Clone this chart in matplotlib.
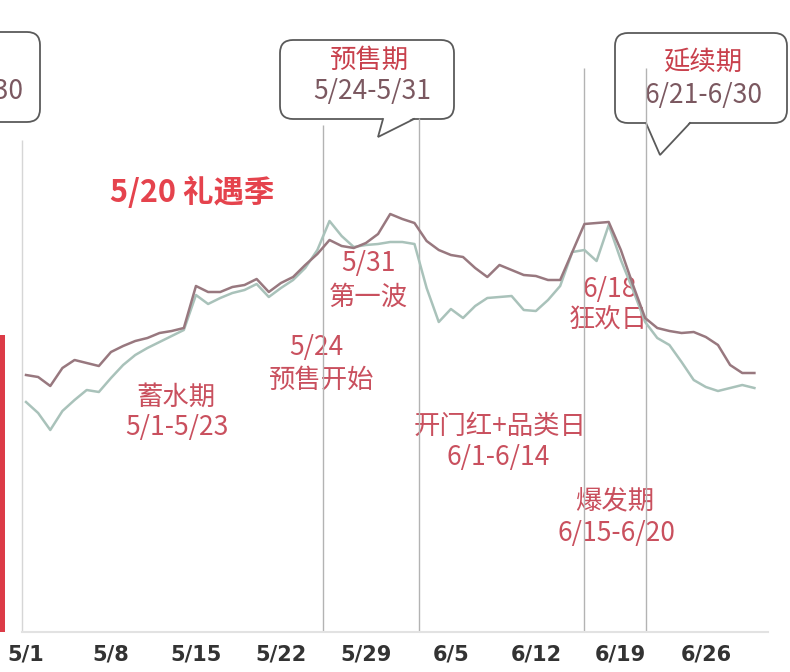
import matplotlib
matplotlib.use("Agg")
import matplotlib.pyplot as plt
from matplotlib.patches import FancyBboxPatch, Polygon

plt.rcParams['font.family'] = ['Noto Sans CJK SC', 'DejaVu Sans']

# daily index, 5/1 .. 6/30 (day 0 .. 60)
days = list(range(61))
tick_days = [0, 7, 14, 21, 28, 35, 42, 49, 56]
tick_labels = ['5/1', '5/8', '5/15', '5/22', '5/29', '6/5', '6/12', '6/19', '6/26']

trend_main = [257, 255, 246, 264, 272, 269, 266, 280, 286, 291,
              294, 299, 301, 304, 346, 340, 340, 345, 347, 353,
              340, 349, 355, 367, 378, 392, 386, 384, 389, 398,
              418, 413, 409, 391, 382, 377, 375, 364, 355, 367,
              362, 357, 356, 352, 352, 380, 408, 409, 410, 382,
              347, 314, 304, 301, 299, 300, 295, 287, 267, 259, 259]

trend_compare = [230, 219, 202, 221, 232, 242, 240, 254, 267, 277,
                 284, 290, 296, 302, 337, 328, 334, 339, 342, 348,
                 335, 344, 352, 364, 382, 411, 396, 385, 387, 388,
                 390, 390, 388, 344, 310, 323, 314, 326, 334, 335,
                 336, 322, 321, 332, 346, 380, 382, 371, 407, 372,
                 342, 310, 294, 287, 270, 252, 245, 241, 244, 247, 244]

# phase boundary markers (day position, top of the marker)
phase_days = [24.5, 32.4, 46.0, 51.1]
phase_tops = [507, 514, 564, 564]
start_day = [-0.33]
start_top = [492]

# last bar of the preceding panel
prev_bar_x = [-2.9]
prev_bar_h = [297]

fig = plt.figure(figsize=(7.9, 6.72), dpi=100)
fig.patch.set_facecolor('white')

# annotation layer in pixel units
note = fig.add_axes([0, 0, 1, 1])
note.set_xlim(0, 790)
note.set_ylim(672, 0)
note.axis('off')
note.set_zorder(0)

ax = fig.add_axes([0, 40 / 672, 1, 632 / 672])
ax.set_zorder(1)
ax.patch.set_alpha(0)
px_per_day = 12.14
ax.set_xlim(-26 / px_per_day, (790 - 26) / px_per_day)
ax.set_ylim(0, 632)
for s in ['top', 'right', 'left']:
    ax.spines[s].set_visible(False)
ax.spines['bottom'].set_color('#e2e2e2')
ax.spines['bottom'].set_linewidth(1.5)
ax.spines['bottom'].set_bounds(-0.33, 61.1)
ax.set_yticks([])
ax.set_xticks(tick_days, tick_labels)
ax.tick_params(axis='x', length=0, pad=9, labelsize=15, labelcolor='#333333')
for lab in ax.get_xticklabels():
    lab.set_fontfamily('DejaVu Sans')
    lab.set_fontweight('bold')

ax.bar(prev_bar_x, prev_bar_h, width=2.3, color='#dc3b47')
ax.vlines(start_day, 0, start_top, color='#d6d6d6', lw=1.0)
ax.vlines(phase_days, 0, phase_tops, color='#b3b3b3', lw=1.0)

ax.plot(days, trend_compare, color='#a9c2ba', lw=1.8)
ax.plot(days, trend_main, color='#98787f', lw=1.8)


def callout(x0, y0, w, h, base=None, tip=None):
    box = FancyBboxPatch((x0, y0), w, h, boxstyle='round,pad=0,rounding_size=13',
                         facecolor='white', edgecolor='#5a5a5a', lw=1.3, zorder=2)
    note.add_patch(box)
    if base is not None:
        (bx1, by), (bx2, _) = base
        note.add_patch(Polygon([(bx1, by - 1.5), (bx2, by - 1.5), tip], closed=True,
                               facecolor='white', edgecolor='none', zorder=3))
        note.plot([bx1, tip[0], bx2], [by, tip[1], by], color='#5a5a5a', lw=1.3,
                  zorder=4, solid_joinstyle='miter')


title_c = '#c8404c'
date_c = '#7b5860'
note_c = '#c9505e'

callout(-150, 32, 190, 90)
note.text(23, 91, '4/21-4/30', ha='right', va='center', fontsize=19, color=date_c, zorder=5)

callout(280, 40, 174, 79, base=[(383, 119), (414, 119)], tip=(378, 137))
note.text(370, 60, '预售期', ha='center', va='center', fontsize=19, color=title_c, zorder=5)
note.text(372, 91, '5/24-5/31', ha='center', va='center', fontsize=19, color=date_c, zorder=5)

callout(615, 33, 172, 90, base=[(646, 123), (690, 123)], tip=(660, 155))
note.text(703, 62, '延续期', ha='center', va='center', fontsize=19, color=title_c, zorder=5)
note.text(703, 95, '6/21-6/30', ha='center', va='center', fontsize=19, color=date_c, zorder=5)

note.text(192, 193, '5/20 礼遇季', ha='center', va='center', fontsize=22,
          fontweight='bold', color='#e5434d')

labels = [
    (176, 397, '蓄水期'), (177, 428, '5/1-5/23'),
    (316, 348, '5/24'), (322, 380, '预售开始'),
    (368, 264, '5/31'), (368, 297, '第一波'),
    (500, 426, '开门红+品类日'), (498, 458, '6/1-6/14'),
    (610, 290, '6/18'), (608, 320, '狂欢日'),
    (615, 501, '爆发期'), (616, 534, '6/15-6/20'),
]
for x, y, t in labels:
    note.text(x, y, t, ha='center', va='center', fontsize=19, color=note_c)

fig.savefig('out.png', dpi=100)
